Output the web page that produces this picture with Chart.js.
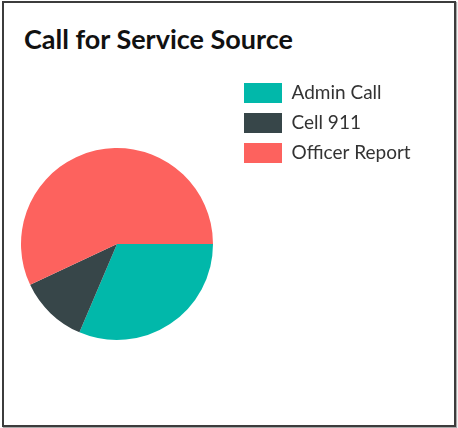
<!DOCTYPE html>
<html>
<head>
<meta charset="utf-8">
<script src="https://cdn.jsdelivr.net/npm/chart.js@4"></script>
<style>
  body { margin: 0; background: #fff; }
  #frame {
    position: absolute; left: 2px; top: 1px; width: 454px; height: 426px;
    box-sizing: border-box; border: 2px solid #3c3c3c;
    box-shadow: 1px 1px 1px #aaa;
  }
  #titulo {
    position: absolute; left: 24px; top: 25px;
    font: 700 27px/27px Lato, sans-serif; color: #111; white-space: nowrap;
  }
  #grafica { position: absolute; left: 0; top: 73px; }
</style>
</head>
<body>
<div id="frame"></div>
<div id="titulo">Call for Service Source</div>
<canvas id="grafica" width="458" height="342"></canvas>
<script>
// Datos (porcentaje aproximado de cada fuente)
const categorias = ["Admin Call", "Cell 911", "Officer Report"];
const valores = [31.4, 11.6, 57.0];
const colores = ["#01B8AA", "#374649", "#FD625E"];

// ancho fijo de la leyenda para que quede en x=234
const anchoLeyenda = {
  id: "anchoLeyenda",
  beforeInit(chart) {
    const fit = chart.legend.fit;
    chart.legend.fit = function () {
      fit.call(this);
      this.width = 224;
    };
  }
};

const ctx = document.getElementById("grafica").getContext("2d");

new Chart(ctx, {
  type: "pie",
  data: {
    labels: categorias,
    datasets: [{
      data: valores,
      backgroundColor: colores,
      borderWidth: 0,
      radius: 96
    }]
  },
  options: {
    responsive: false,
    animation: false,
    rotation: 90,
    layout: { padding: 0 },
    plugins: {
      tooltip: { enabled: false },
      legend: {
        position: "right",
        align: "start",
        labels: {
          boxWidth: 38,
          boxHeight: 20,
          padding: 10,
          color: "#333",
          font: { family: "Lato", size: 19 }
        }
      }
    }
  },
  plugins: [anchoLeyenda]
});
</script>
</body>
</html>
